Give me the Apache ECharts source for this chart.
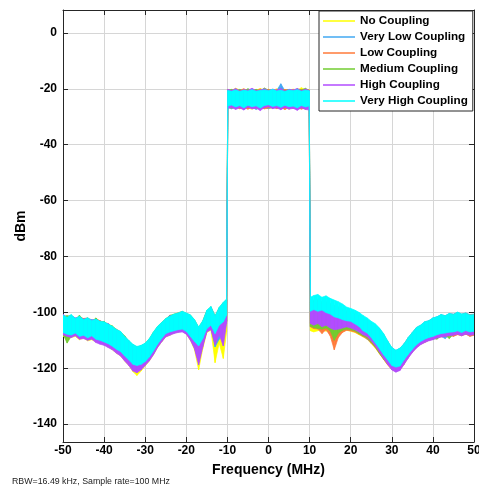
<!DOCTYPE html>
<html>
<head>
<meta charset="utf-8">
<script src="https://cdn.jsdelivr.net/npm/echarts@6/dist/echarts.min.js"></script>
<style>html,body{margin:0;padding:0;background:#fff}#c{width:479px;height:487px}</style>
</head>
<body>
<div id="c"></div>
<script>
// Frequency samples (MHz)
const freqMHz = [
 -50,-49,-48,-47,-46,-45,-44,-43,-42,-41,
 -40,-39,-38,-37,-36,-35,-34,-33,-32,-31,
 -30,-29,-28,-27,-26,-25,-24,-23,-22,-21,
 -20,-19,-18,-17,-16,-15,-14,-13,-12,-11,
 -10.2,
 -9.9,-9,-8,-7,-6,-5,-4,-3,-2,-1,0,1,2,3,4,5,6,7,8,9,9.9,
 10.2,
 11,12,13,14,15,16,17,18,19,20,
 21,22,23,24,25,26,27,28,29,30,
 31,32,33,34,35,36,37,38,39,40,
 41,42,43,44,45,46,47,48,49,50
];
const couplingNames = ['No Coupling','Very Low Coupling','Low Coupling','Medium Coupling','High Coupling','Very High Coupling'];
const xTicks = [-50,-40,-30,-20,-10,0,10,20,30,40,50];

// No Coupling: upper / lower envelope (dBm)
const noHi = [
 -101.4,-101.6,-101.4,-102.2,-101.8,-102.6,-102.0,-103.0,-102.6,-103.2,
 -103.6,-104.0,-105.0,-106.2,-107.0,-108.6,-110.4,-111.8,-112.6,-112.0,
 -111.2,-109.6,-107.2,-105.2,-103.6,-102.2,-101.4,-100.6,-100.2,-99.6,
 -100.4,-101.0,-102.8,-105.4,-103.2,-99.4,-98.2,-101.4,-98.4,-96.6,
 -95.4,
 -20.2,-20.6,-19.8,-20.4,-20.1,-20.7,-20.3,-20.5,-19.9,-20.6,-20.2,-20.5,-20.0,-20.7,-20.3,-20.6,-20.1,-20.5,-19.6,-20.4,-20.3,
 -96.6,
 -96.2,-96.0,-96.8,-96.6,-97.4,-98.0,-98.6,-99.2,-100.0,-100.4,
 -101.0,-101.6,-102.4,-103.2,-104.2,-105.2,-106.4,-108.4,-111.0,-113.0,
 -114.0,-113.2,-111.6,-109.4,-107.6,-105.8,-105.0,-103.8,-103.4,-102.4,
 -102.0,-101.2,-101.6,-100.8,-101.0,-100.4,-101.0,-100.6,-101.2,-101.0
];
const noLo = [
 -108.6,-108.4,-109.0,-108.6,-109.8,-109.2,-110.2,-109.8,-110.6,-111.0,
 -111.6,-112.4,-113.4,-114.6,-115.6,-117.4,-119.0,-121.2,-122.6,-121.0,
 -119.2,-117.4,-115.2,-112.6,-110.6,-108.8,-108.2,-107.4,-107.0,-106.8,
 -107.8,-110.0,-113.4,-120.6,-113.0,-107.2,-106.4,-118.0,-111.0,-116.5,
 -107.0,
 -26.5,-27.0,-26.7,-27.2,-26.6,-26.9,-27.3,-26.6,-27.0,-26.5,-27.2,-26.8,-26.6,-27.1,-26.7,-27.3,-26.5,-27.0,-26.6,-27.4,-26.8,
 -106.6,
 -107.0,-106.6,-105.6,-106.8,-106.0,-108.6,-108.0,-107.0,-106.4,-106.8,
 -107.2,-108.0,-108.8,-109.6,-111.2,-112.8,-114.8,-116.8,-118.8,-120.4,
 -121.2,-120.6,-118.6,-116.2,-114.2,-112.6,-111.4,-110.6,-110.0,-109.6,
 -109.0,-108.6,-108.4,-108.2,-108.0,-107.8,-108.2,-107.8,-108.0,-107.8
];

// Very Low Coupling
const veryLowHi = [
 -101.6,-101.4,-101.2,-102.0,-102.0,-102.4,-102.2,-102.6,-102.8,-103.0,
 -103.8,-104.2,-105.2,-106.4,-107.0,-108.8,-110.2,-111.6,-112.6,-112.0,
 -111.2,-109.8,-107.4,-105.4,-103.8,-102.4,-101.6,-100.8,-100.4,-99.8,
 -100.4,-101.2,-102.8,-105.6,-103.4,-99.6,-98.2,-101.6,-98.6,-96.8,
 -95.4,
 -20.5,-20.3,-20.8,-20.2,-20.6,-20.1,-20.7,-20.4,-20.9,-20.3,-20.6,-20.4,-20.6,-18.2,-20.7,-20.2,-20.6,-20.4,-20.7,-20.2,-20.6,
 -96.0,
 -95.6,-95.4,-96.2,-96.0,-96.8,-97.4,-98.0,-98.6,-99.4,-99.8,
 -100.4,-101.0,-101.8,-102.6,-103.6,-104.6,-105.8,-107.8,-110.4,-112.6,
 -113.6,-112.8,-111.2,-109.0,-107.2,-105.4,-104.6,-103.4,-103.0,-102.0,
 -101.6,-100.8,-101.2,-100.4,-100.6,-100.0,-100.6,-100.2,-100.8,-100.6
];
const veryLowLo = [
 -108.0,-108.4,-108.8,-108.0,-109.2,-109.0,-109.8,-109.0,-110.2,-110.8,
 -111.4,-111.8,-112.8,-114.0,-115.0,-116.8,-118.2,-120.0,-120.6,-119.8,
 -118.4,-116.8,-115.0,-112.0,-110.0,-108.2,-107.8,-107.0,-106.8,-106.4,
 -107.4,-109.4,-112.8,-117.6,-111.6,-106.6,-105.6,-112.4,-109.6,-105.8,
 -103.2,
 -26.7,-27.2,-26.5,-26.9,-26.4,-27.0,-26.6,-27.4,-26.5,-26.8,-27.1,-26.6,-26.9,-26.4,-27.2,-26.7,-27.0,-26.5,-27.1,-26.6,-26.9,
 -105.0,
 -105.6,-105.4,-106.2,-106.0,-108.0,-107.2,-107.8,-106.8,-106.2,-106.4,
 -106.8,-107.4,-108.4,-109.6,-110.8,-112.4,-114.4,-116.6,-118.6,-120.2,
 -120.8,-120.2,-118.2,-116.0,-114.0,-112.4,-111.2,-110.6,-109.8,-109.4,
 -108.8,-108.6,-109.4,-108.0,-108.4,-107.8,-108.2,-107.6,-108.4,-108.0
];

// Low Coupling
const lowHi = [
 -101.2,-101.6,-101.0,-102.4,-101.6,-102.2,-102.0,-103.2,-102.2,-103.0,
 -103.6,-104.4,-105.2,-106.0,-107.0,-108.6,-110.2,-111.6,-112.4,-112.0,
 -111.2,-109.6,-107.4,-105.2,-103.8,-102.4,-101.6,-100.8,-100.2,-99.8,
 -100.4,-101.0,-102.8,-105.4,-103.2,-99.4,-98.0,-101.4,-98.4,-96.6,
 -95.4,
 -20.3,-20.7,-20.1,-20.6,-20.0,-20.8,-20.4,-20.6,-20.1,-20.5,-20.2,-20.7,-20.3,-20.8,-20.2,-20.6,-20.3,-20.8,-20.2,-20.6,-20.4,
 -96.2,
 -95.8,-95.6,-96.4,-96.2,-97.0,-97.6,-98.2,-98.8,-99.6,-100.0,
 -100.6,-101.2,-102.0,-102.8,-103.8,-104.8,-106.0,-108.0,-110.6,-112.8,
 -113.8,-113.0,-111.4,-109.2,-107.4,-105.6,-104.8,-103.6,-103.2,-102.2,
 -101.8,-101.0,-101.4,-100.6,-100.8,-100.2,-100.8,-100.4,-101.0,-100.8
];
const lowLo = [
 -108.2,-108.8,-108.4,-108.2,-109.4,-108.8,-109.6,-109.0,-110.2,-110.8,
 -111.4,-112.0,-113.0,-114.2,-115.2,-117.0,-118.6,-120.6,-121.0,-120.0,
 -118.6,-117.0,-114.8,-112.2,-110.2,-108.4,-107.8,-107.2,-106.8,-106.6,
 -107.6,-109.6,-112.6,-118.0,-111.8,-106.8,-105.8,-111.0,-107.4,-106.0,
 -103.4,
 -26.6,-26.9,-26.4,-27.1,-26.7,-27.3,-26.5,-27.0,-26.6,-27.2,-26.8,-26.5,-27.1,-26.7,-27.4,-26.6,-27.0,-26.7,-27.3,-26.8,-27.0,
 -105.2,
 -105.8,-106.0,-107.6,-106.2,-108.4,-113.4,-109.0,-107.2,-106.4,-106.6,
 -107.0,-107.8,-108.6,-109.4,-111.0,-112.6,-114.8,-116.8,-118.8,-120.4,
 -121.0,-120.4,-118.4,-116.0,-114.2,-112.6,-111.4,-110.8,-110.0,-109.6,
 -109.0,-108.8,-108.6,-108.2,-108.6,-108.0,-108.4,-107.8,-108.6,-108.2
];

// Medium Coupling
const mediumHi = [
 -101.4,-101.2,-101.6,-102.6,-101.0,-102.8,-102.4,-103.4,-102.0,-103.6,
 -103.2,-104.6,-104.8,-106.4,-107.2,-108.4,-110.4,-111.8,-112.6,-112.0,
 -111.2,-109.6,-107.2,-105.2,-103.8,-102.4,-101.0,-100.8,-100.4,-99.8,
 -100.6,-101.2,-103.0,-105.8,-103.4,-99.6,-98.2,-101.6,-98.6,-96.8,
 -95.6,
 -20.4,-20.2,-20.7,-20.3,-20.9,-20.0,-20.6,-20.2,-20.8,-19.7,-20.5,-20.3,-20.9,-20.1,-20.6,-20.2,-20.9,-20.0,-20.4,-19.8,-20.6,
 -96.4,
 -96.0,-95.8,-96.6,-96.4,-97.2,-97.8,-98.4,-99.0,-99.8,-100.2,
 -100.8,-101.4,-102.2,-103.0,-104.0,-105.0,-106.2,-108.2,-110.8,-113.0,
 -114.0,-113.2,-111.6,-109.4,-107.6,-105.8,-105.0,-103.8,-103.4,-102.4,
 -102.0,-101.2,-101.6,-100.8,-101.0,-100.4,-101.0,-100.6,-101.2,-101.0
];
const mediumLo = [
 -107.8,-111.0,-108.6,-108.0,-109.2,-108.8,-109.8,-109.2,-110.4,-110.6,
 -111.4,-111.8,-112.8,-114.0,-114.8,-116.6,-118.0,-119.8,-120.4,-119.6,
 -118.4,-116.8,-114.6,-112.2,-110.2,-108.4,-107.8,-107.2,-106.8,-106.6,
 -107.4,-109.4,-112.0,-117.0,-111.4,-106.6,-105.4,-110.6,-107.0,-105.4,
 -103.0,
 -26.8,-26.3,-27.0,-26.5,-27.2,-26.4,-26.8,-26.6,-27.3,-26.4,-26.2,-26.9,-26.5,-27.2,-26.3,-26.9,-26.6,-27.4,-26.5,-27.1,-26.8,
 -105.0,
 -105.4,-105.8,-106.0,-105.6,-106.6,-110.0,-107.4,-106.4,-106.0,-106.2,
 -106.6,-107.6,-108.4,-109.0,-110.6,-112.4,-114.6,-116.6,-118.4,-120.0,
 -120.6,-120.2,-118.0,-115.8,-114.0,-112.4,-111.2,-110.4,-109.8,-109.4,
 -109.6,-108.4,-108.2,-109.4,-107.8,-107.4,-108.0,-107.4,-108.0,-107.6
];

// High Coupling
const highHi = [
 -100.6,-102.0,-101.2,-102.0,-101.8,-102.4,-102.2,-102.8,-102.6,-103.4,
 -103.8,-104.0,-105.4,-106.4,-107.2,-108.8,-110.6,-112.0,-112.6,-112.2,
 -111.4,-110.0,-107.6,-105.4,-104.0,-102.6,-101.2,-101.0,-100.4,-99.8,
 -100.6,-101.4,-103.2,-106.0,-103.8,-99.8,-98.4,-101.8,-98.8,-97.0,
 -95.8,
 -20.2,-20.6,-19.9,-20.8,-20.3,-20.5,-19.8,-20.7,-20.4,-20.0,-20.6,-20.1,-20.5,-19.9,-20.8,-20.2,-20.4,-19.9,-20.7,-20.1,-20.5,
 -97.0,
 -96.6,-96.4,-97.0,-97.2,-97.8,-98.4,-99.0,-99.6,-100.4,-100.8,
 -101.2,-101.8,-102.6,-103.4,-104.2,-105.2,-106.6,-108.6,-111.0,-113.2,
 -114.2,-113.4,-111.8,-109.6,-107.8,-106.0,-105.2,-104.0,-103.6,-102.6,
 -102.2,-101.4,-101.6,-101.0,-101.2,-100.6,-101.2,-100.8,-101.4,-101.2
];
const highLo = [
 -108.0,-108.6,-109.0,-108.4,-109.6,-109.4,-110.0,-109.6,-110.8,-111.4,
 -111.8,-112.6,-113.4,-114.6,-115.6,-117.4,-119.0,-121.0,-121.6,-120.6,
 -119.0,-117.4,-115.2,-112.6,-110.6,-108.8,-108.2,-107.6,-107.2,-107.0,
 -107.8,-110.0,-113.0,-118.8,-112.4,-107.0,-106.2,-111.6,-108.0,-112.0,
 -104.0,
 -27.0,-26.6,-27.4,-26.8,-27.6,-26.5,-27.2,-26.9,-27.8,-26.7,-26.4,-27.1,-26.8,-27.5,-26.6,-27.3,-27.0,-27.7,-26.8,-27.4,-27.6,
 -104.0,
 -104.6,-104.0,-105.2,-104.6,-105.6,-106.2,-106.0,-105.6,-105.2,-105.6,
 -106.2,-107.0,-108.0,-108.6,-110.2,-112.0,-114.2,-116.4,-118.6,-120.6,
 -121.4,-120.8,-118.6,-116.4,-114.4,-112.8,-111.6,-110.8,-110.2,-109.8,
 -109.2,-108.8,-108.6,-108.4,-108.2,-107.8,-108.4,-107.8,-108.2,-108.0
];

// Very High Coupling
const veryHighHi = [
 -101.0,-101.8,-100.8,-102.2,-101.4,-102.6,-101.9,-103.0,-102.4,-103.2,
 -103.4,-104.2,-105.0,-106.1,-106.8,-108.6,-110.0,-111.4,-112.2,-111.8,
 -111.0,-109.4,-107.0,-105.0,-103.6,-102.2,-101.4,-100.6,-100.2,-99.6,
 -100.2,-100.9,-102.6,-105.2,-103.0,-99.2,-97.9,-101.2,-98.2,-96.4,
 -95.2,
 -20.6,-20.9,-20.4,-21.0,-20.5,-20.8,-20.3,-20.9,-20.6,-20.4,-20.7,-20.2,-20.8,-20.5,-21.0,-20.4,-20.7,-20.3,-20.9,-20.5,-20.7,
 -94.6,
 -94.0,-93.6,-94.6,-94.1,-95.0,-95.6,-96.2,-97.0,-98.1,-98.6,
 -99.2,-100.0,-101.1,-102.0,-103.2,-104.1,-105.6,-107.6,-110.2,-112.6,
 -113.6,-112.8,-111.2,-109.0,-107.2,-105.4,-104.6,-103.4,-103.0,-102.0,
 -101.6,-100.8,-101.2,-100.4,-100.8,-99.9,-100.6,-100.3,-101.0,-100.8
];
const veryHighLo = [
 -107.2,-107.8,-108.1,-107.4,-108.6,-108.2,-109.1,-108.4,-109.6,-110.0,
 -110.6,-111.2,-112.1,-113.2,-114.0,-115.6,-117.0,-118.6,-119.0,-118.6,
 -117.6,-116.0,-113.8,-111.4,-109.4,-107.6,-107.0,-106.6,-106.2,-106.0,
 -106.8,-108.6,-110.4,-112.0,-109.4,-105.8,-104.6,-107.6,-104.6,-103.4,
 -101.0,
 -26.2,-25.8,-26.5,-26.0,-26.8,-25.9,-26.4,-26.1,-26.9,-26.0,-25.7,-26.3,-26.0,-26.6,-25.9,-26.4,-26.2,-26.8,-26.0,-26.5,-26.1,
 -99.6,
 -99.0,-99.6,-99.2,-100.1,-100.6,-101.6,-102.0,-102.6,-103.0,-103.2,
 -104.1,-105.0,-106.6,-107.4,-109.0,-111.0,-113.0,-115.2,-117.0,-119.0,
 -119.6,-119.2,-117.0,-115.0,-113.2,-111.6,-110.4,-109.6,-109.0,-108.6,
 -108.0,-107.6,-107.4,-107.1,-107.0,-106.6,-107.2,-106.5,-107.0,-106.8
];

const hiSets = [noHi, veryLowHi, lowHi, mediumHi, highHi, veryHighHi];
const loSets = [noLo, veryLowLo, lowLo, mediumLo, highLo, veryHighLo];
const colors = ['#FFFF00', '#42A8F2', '#FF7A3A', '#72CC30', '#B24CFF', '#00FFFF'];

hiSets.concat(loSets).forEach((a, i) => {
  if (a.length !== freqMHz.length) throw new Error('array ' + i + ' has length ' + a.length);
});

const FONT = '"Liberation Sans", Arial, Helvetica, sans-serif';

function bandRenderer(color) {
  return function (params, api) {
    const i = params.dataIndexInside;
    if (i >= params.dataInsideLength - 1) return null;
    const x0 = api.value(0, i), lo0 = api.value(1, i), hi0 = api.value(2, i);
    const x1 = api.value(0, i + 1), lo1 = api.value(1, i + 1), hi1 = api.value(2, i + 1);
    const pts = [api.coord([x0, hi0]), api.coord([x1, hi1]), api.coord([x1, lo1]), api.coord([x0, lo0])];
    return {
      type: 'polygon', shape: { points: pts },
      style: { fill: color, stroke: color, lineWidth: 0.7 }
    };
  };
}

const series = couplingNames.map((name, k) => ({
  name: name, type: 'custom', silent: true, animation: false, clip: true,
  renderItem: bandRenderer(colors[k]),
  itemStyle: { color: colors[k] },
  encode: { x: 0, y: [1, 2] },
  data: freqMHz.map((f, i) => [f, loSets[k][i], hiSets[k][i]])
}));

const axisLineStyle = { color: '#262626', width: 1 };
const chart = echarts.init(document.getElementById('c'), null, { renderer: 'canvas' });
chart.setOption({
  animation: false,
  backgroundColor: '#fff',
  grid: { left: 63, right: 5, top: 10, bottom: 45, containLabel: false, outerBoundsMode: 'none' },
  xAxis: [{
    type: 'value', min: -50, max: 50, interval: 10, position: 'bottom',
    name: 'Frequency (MHz)', nameLocation: 'middle', nameGap: 21, nameMoveOverlap: false,
    nameTextStyle: { fontFamily: FONT, fontSize: 14, fontWeight: 'bold', color: '#000' },
    axisLine: { show: true, onZero: false, lineStyle: axisLineStyle },
    axisTick: { show: true, inside: true, length: 5, lineStyle: axisLineStyle },
    axisLabel: { fontFamily: FONT, fontSize: 12, fontWeight: 'bold', color: '#000', margin: 3,
      hideOverlap: false,
      formatter: v => xTicks.includes(v) ? String(v) : '' },
    splitLine: { show: true, lineStyle: { color: '#d6d6d6', width: 1 } }
  }, {
    type: 'value', min: -50, max: 50, interval: 10, position: 'top',
    axisLine: { show: true, onZero: false, lineStyle: axisLineStyle },
    axisTick: { show: true, inside: true, length: 5, lineStyle: axisLineStyle },
    axisLabel: { show: false }, splitLine: { show: false }
  }],
  yAxis: [{
    type: 'value', min: -146.4, max: 8.2, splitNumber: 8, position: 'left',
    name: 'dBm', nameLocation: 'middle', nameGap: 35, nameMoveOverlap: false,
    nameTextStyle: { fontFamily: FONT, fontSize: 14, fontWeight: 'bold', color: '#000' },
    axisLine: { show: true, onZero: false, lineStyle: axisLineStyle },
    axisTick: { show: true, inside: true, length: 5, lineStyle: axisLineStyle },
    axisLabel: { fontFamily: FONT, fontSize: 12, fontWeight: 'bold', color: '#000', margin: 6,
      showMinLabel: false, showMaxLabel: false },
    splitLine: { show: true, lineStyle: { color: '#d6d6d6', width: 1 } }
  }, {
    type: 'value', min: -146.4, max: 8.2, splitNumber: 8, position: 'right',
    axisLine: { show: true, onZero: false, lineStyle: axisLineStyle },
    axisTick: { show: true, inside: true, length: 5, lineStyle: axisLineStyle },
    axisLabel: { show: false }, splitLine: { show: false }
  }],
  legend: {
    data: couplingNames, orient: 'vertical', left: 319, top: 11,
    backgroundColor: '#fff', borderColor: '#262626', borderWidth: 1, borderRadius: 0,
    padding: [3, 5, 3, 4], itemGap: 2, itemWidth: 32, itemHeight: 1.5, itemTextGap: 3,
    icon: 'rect', selectedMode: false,
    textStyle: { fontFamily: FONT, fontSize: 11.7, fontWeight: 'bold', color: '#000', lineHeight: 14 }
  },
  graphic: [{
    type: 'text', left: 12, top: 477,
    style: { text: 'RBW=16.49 kHz, Sample rate=100 MHz', fontFamily: FONT, fontSize: 8.8, fill: '#222' }
  }],
  series: series
});
</script>
</body>
</html>
